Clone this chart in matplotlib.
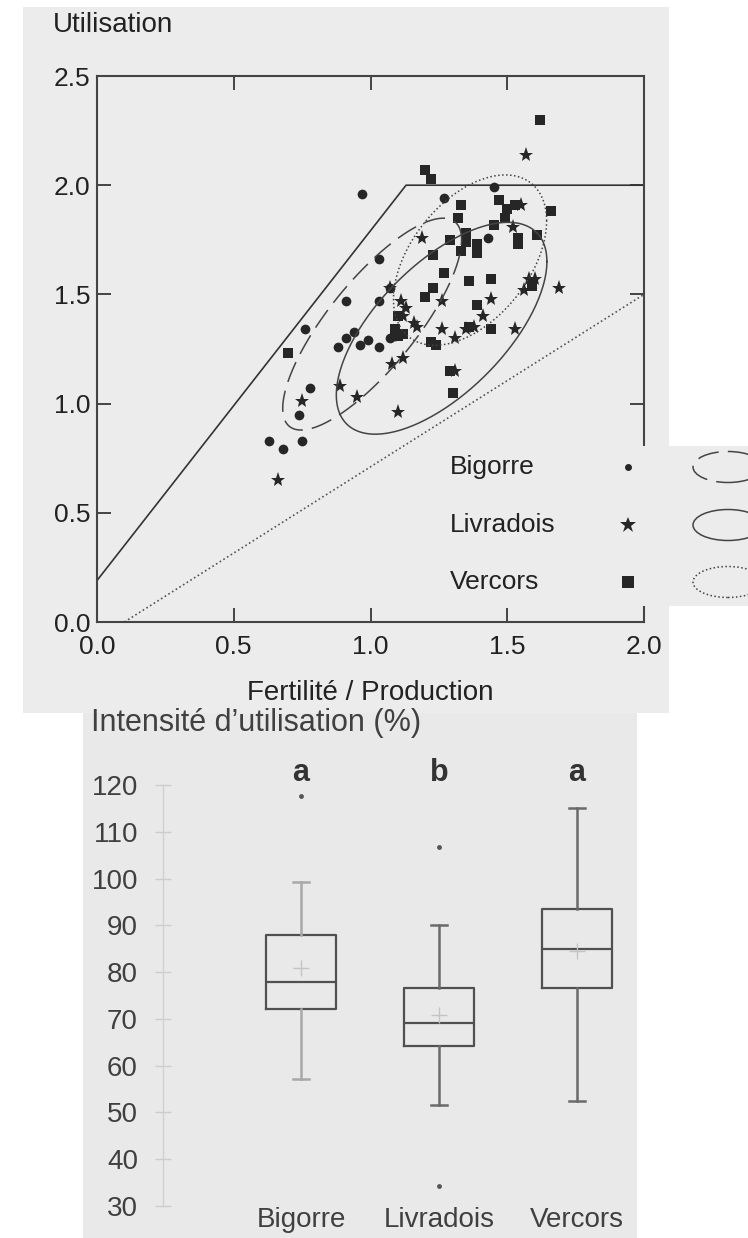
import numpy as np
import matplotlib
matplotlib.use("Agg")
import matplotlib.pyplot as plt
from matplotlib.patches import Rectangle, Ellipse
from matplotlib.lines import Line2D

plt.rcParams['font.family'] = ['Liberation Sans', 'DejaVu Sans']

# ---- data: scatter (fertility / production vs utilisation) ----
bigorre_x = [0.97, 1.27, 1.45, 1.43, 1.03, 0.91, 1.03, 0.76, 0.88, 0.91, 0.94,
             0.96, 0.99, 1.03, 1.07, 1.07, 1.09, 0.78, 0.74, 0.63, 0.68, 0.75]
bigorre_y = [1.96, 1.94, 1.99, 1.76, 1.66, 1.47, 1.47, 1.34, 1.26, 1.30, 1.33,
             1.27, 1.29, 1.26, 1.30, 1.53, 1.31, 1.07, 0.95, 0.83, 0.79, 0.83]

livradois_x = [0.66, 1.57, 1.55, 1.52, 1.19, 1.69, 1.58, 1.60, 1.56, 1.44,
               1.26, 1.41, 1.53, 1.26, 1.35, 1.38, 1.31, 1.07, 1.11, 1.13,
               1.12, 1.16, 1.17, 1.08, 1.12, 1.31, 0.89, 0.95, 1.10, 0.75]
livradois_y = [0.65, 2.14, 1.91, 1.81, 1.76, 1.53, 1.57, 1.57, 1.52, 1.48,
               1.47, 1.40, 1.34, 1.34, 1.34, 1.35, 1.30, 1.53, 1.47, 1.44,
               1.40, 1.37, 1.35, 1.18, 1.21, 1.15, 1.08, 1.03, 0.96, 1.01]

vercors_x = [1.62, 1.20, 1.22, 1.33, 1.32, 1.47, 1.50, 1.49, 1.45, 1.66,
             1.61, 1.54, 1.54, 1.29, 1.35, 1.35, 1.39, 1.39, 1.33, 1.23,
             1.27, 1.23, 1.20, 1.36, 1.44, 1.39, 1.44, 1.10, 1.09, 1.10,
             1.12, 1.22, 1.24, 1.29, 1.30, 0.70, 1.36, 1.59, 1.53]
vercors_y = [2.30, 2.07, 2.03, 1.91, 1.85, 1.93, 1.89, 1.85, 1.82, 1.88,
             1.77, 1.76, 1.73, 1.75, 1.78, 1.74, 1.73, 1.69, 1.70, 1.68,
             1.60, 1.53, 1.49, 1.56, 1.57, 1.45, 1.34, 1.40, 1.34, 1.31,
             1.32, 1.28, 1.27, 1.15, 1.05, 1.23, 1.35, 1.54, 1.91]

# boundary lines
upper_x = [0.0, 1.13, 2.0]
upper_y = [0.19, 2.0, 2.0]
lower_x = [0.1, 2.0]
lower_y = [0.0, 1.5]

# group ellipses: centre, half extents, correlation
ell_cx = [1.006, 1.26, 1.364]
ell_cy = [1.364, 1.345, 1.657]
ell_hx = [0.327, 0.385, 0.28]
ell_hy = [0.485, 0.485, 0.39]
ell_r = [0.795, 0.63, 0.46]

# ---- data: box plot (intensité d'utilisation) ----
regions = ['Bigorre', 'Livradois', 'Vercors']
box_lo = [57.1, 51.5, 52.5]
box_q1 = [72.2, 64.3, 76.5]
box_med = [77.9, 69.1, 85.0]
box_mean = [80.9, 70.8, 84.6]
box_q3 = [87.9, 76.5, 93.5]
box_hi = [99.2, 90.1, 115.0]
box_fliers = [[117.6], [106.7, 34.2], []]
letters = ['a', 'b', 'a']

W, H = 748, 1238
fig = plt.figure(figsize=(W / 100, H / 100), dpi=100)
px = fig.dpi_scale_trans  # inches, origin bottom-left


def frect(x0, y0, x1, y1, color, z):
    # rectangle given in image pixels (y from top)
    r = Rectangle((x0 / 100, (H - y1) / 100), (x1 - x0) / 100, (y1 - y0) / 100,
                  transform=px, facecolor=color, edgecolor='none', zorder=z)
    fig.add_artist(r)


def ftext(x, y, s, **kw):
    fig.text(x / W, 1 - y / H, s, **kw)


# panel backgrounds
frect(23, 7, 669, 713, '#ececec', -2)
frect(83, 713, 637, 1238, '#e9e9e9', -1)

dark = '#262626'

# ---------------- top panel ----------------
ax = fig.add_axes([97 / W, 1 - 622 / H, 547 / W, 546 / H])
ax.set_facecolor('none')
ax.set_xlim(0, 2.0)
ax.set_ylim(0, 2.5)

ax.plot(upper_x, upper_y, color='#333333', lw=1.2)
ax.plot(lower_x, lower_y, color='#555555', lw=1.2, ls=(0, (1, 1.6)))

ax.plot(bigorre_x, bigorre_y, 'o', color=dark, ms=7, mew=0)
ax.plot(livradois_x, livradois_y, '*', color=dark, ms=11, mew=0)
ax.plot(vercors_x, vercors_y, 's', color=dark, ms=7, mew=0)

ell_styles = [dict(ls=(0, (14, 6))), dict(ls='-'), dict(ls=(0, (1, 1.6)))]
t = np.linspace(0, 2 * np.pi, 300)
for i in range(3):
    cov = np.array([[ell_hx[i] ** 2, ell_r[i] * ell_hx[i] * ell_hy[i]],
                    [ell_r[i] * ell_hx[i] * ell_hy[i], ell_hy[i] ** 2]])
    L = np.linalg.cholesky(cov)
    pts = L @ np.vstack([np.cos(t), np.sin(t)])
    ax.plot(ell_cx[i] + pts[0], ell_cy[i] + pts[1], color='#444444', lw=1.1,
            **ell_styles[i])

ax.set_xticks([0, 0.5, 1.0, 1.5, 2.0])
ax.set_yticks([0, 0.5, 1.0, 1.5, 2.0, 2.5])
ax.xaxis.set_major_formatter(matplotlib.ticker.FormatStrFormatter('%.1f'))
ax.yaxis.set_major_formatter(matplotlib.ticker.FormatStrFormatter('%.1f'))
ax.tick_params(axis='x', direction='in', length=10, width=1.4, color='#444444',
               top=True, labelsize=19, pad=9, labelcolor='#222222')
ax.tick_params(axis='y', direction='in', length=10, width=1.4, color='#444444',
               right=True, labelsize=19, pad=5, labelcolor='#222222')
for s in ax.spines.values():
    s.set_color('#444444')
    s.set_linewidth(1.5)

ftext(53, 25, 'Utilisation', fontsize=20, color='#222222', va='center', ha='left')
ftext(370, 693, 'Fertilité / Production', fontsize=20, color='#222222',
      va='center', ha='center')

# legend block (covers the right spine, extends past the panel)
frect(430, 446, 748, 606, '#ececec', 3)
leg_y = [467, 525, 582]
leg_marker = [('o', 5), ('*', 12), ('s', 9)]
for i, name in enumerate(regions):
    ftext(450, leg_y[i], name, fontsize=19, color='#222222', va='center',
          ha='left', zorder=4)
    m, ms = leg_marker[i]
    fig.add_artist(Line2D([628 / 100], [(H - leg_y[i]) / 100], marker=m,
                          ms=ms, color=dark, mew=0, transform=px, zorder=4))
    e = Ellipse((728 / 100, (H - leg_y[i]) / 100), 0.70, 0.31, transform=px,
                facecolor='none', edgecolor='#444444', lw=1.1, zorder=4,
                **ell_styles[i])
    fig.add_artist(e)

# ---------------- bottom panel ----------------
bx = fig.add_axes([163 / W, 1 - 1206 / H, (637 - 163) / W, (1206 - 785) / H])
bx.set_facecolor('none')
bx.set_xlim(0, (637 - 163) / 138)
bx.set_ylim(30, 120)

stats = []
for i in range(3):
    stats.append(dict(med=box_med[i], q1=box_q1[i], q3=box_q3[i],
                      whislo=box_lo[i], whishi=box_hi[i], mean=box_mean[i],
                      fliers=box_fliers[i], label=regions[i]))
art = bx.bxp(stats, positions=[1, 2, 3], widths=0.51, capwidths=0.12,
             showmeans=True, manage_ticks=False,
             boxprops=dict(color='#505050', lw=1.6),
             medianprops=dict(color='#505050', lw=1.6),
             whiskerprops=dict(color='#6a6a6a', lw=1.8),
             capprops=dict(color='#6a6a6a', lw=1.8),
             meanprops=dict(marker='+', color='#c4c4c4', mec='#c4c4c4', ms=12, mew=1),
             flierprops=dict(marker='o', mfc='#555555', mec='none', ms=3.5))
# Bigorre whiskers are lighter
for w in art['whiskers'][:2] + art['caps'][:2]:
    w.set_color('#a8a8a8')

for i, l in enumerate(letters):
    bx.text(i + 1, 122.6, l, ha='center', va='center', fontsize=22,
            fontweight='bold', color='#333333', clip_on=False)

bx.set_yticks(range(30, 121, 10))
bx.set_xticks([1, 2, 3])
bx.set_xticklabels(regions)
bx.tick_params(axis='y', direction='inout', length=12, width=1, color='#cccccc',
               labelsize=20, labelcolor='#404040', pad=12)
bx.tick_params(axis='x', length=0, labelsize=20, labelcolor='#404040', pad=1)
yt = bx.yaxis.get_major_ticks()
for k in (0, -1):
    yt[k].tick1line.set_color('#909090')
for side in ('top', 'right', 'bottom'):
    bx.spines[side].set_visible(False)
bx.spines['left'].set_color('#d0d0d0')
bx.spines['left'].set_linewidth(1)
bx.spines['left'].set_bounds(30, 120)

ftext(91, 723, 'Intensité d\u2019utilisation (%)', fontsize=22, color='#404040',
      va='center', ha='left')

fig.savefig('out.png', dpi=100)
